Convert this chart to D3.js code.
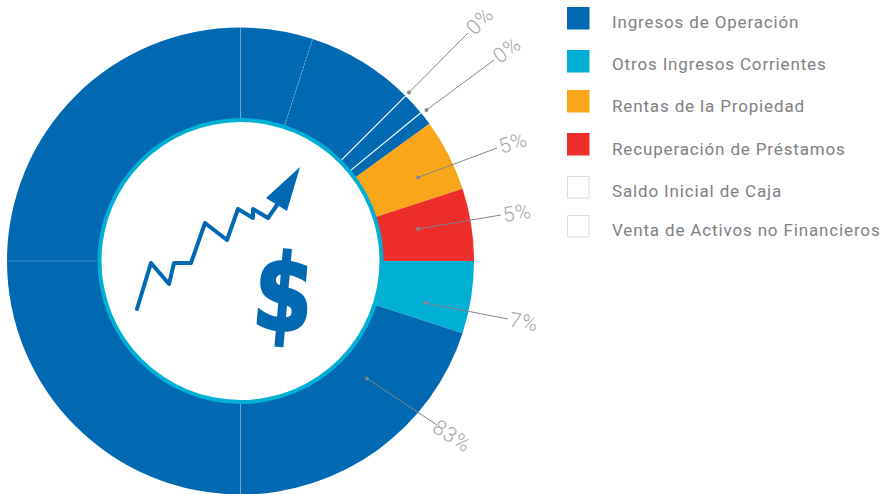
<!DOCTYPE html>
<html>
<head>
<meta charset="utf-8">
<script src="https://cdn.jsdelivr.net/npm/d3@7"></script>
<style>
  html,body{margin:0;padding:0;background:#fff}
  svg{display:block}
  text{font-family:"Roboto","Noto Sans",sans-serif}
</style>
</head>
<body>
<svg id="chart" width="883" height="494"></svg>
<script>
'use strict'

// legend
const categories = ["Ingresos de Operación","Otros Ingresos Corrientes","Rentas de la Propiedad","Recuperación de Préstamos","Saldo Inicial de Caja","Venta de Activos no Financieros"]
const legendColors = ["#0069b1","#00b0d4","#faa61a","#ee2e2b","#ffffff","#ffffff"]

// ring pieces clockwise from 12 o'clock, share of the circle in percent
const sliceCategory = [0,0,0,0,2,3,1,0,0,0]
const sliceValues = [5,7.5,1.55,0.95,5,5,5,20,25,25]
const sliceEdge = ["dash","white","white","none","none","none","none","faint","faint","faint"]

// the printed labels
const labelTexts = ["0%","0%","5%","5%","7%","83%"]

const cx = 240.5, cy = 261
const outerR = 233.5, ringOuter = 143, ringInner = 139

// leader: dot, line end, label centre, label rotation
const leaders = [
  {dot:[409,92.5], end:[468,33], text:[480,21], rot:-45},
  {dot:[426.5,110], end:[494,60], text:[507,50], rot:-37},
  {dot:[418,177.5], end:[497,148], text:[513,143], rot:-18},
  {dot:[418,229], end:[501,215], text:[517,213], rot:-9},
  {dot:[425.5,303], end:[508,319], text:[524,322], rot:10},
  {dot:[367,378.5], end:[437,425], text:[452,436], rot:33}
]

const legendRows = [18,61,101,144,187,226]
const legendTextRows = [22,64,106,149,191,230]

const svg = d3.select("#chart")
const ring = svg.append("g").attr("transform",`translate(${cx},${cy})`)

const pie = d3.pie().sort(null).value(d=>d.value)
const arc = d3.arc().innerRadius(ringOuter-1).outerRadius(outerR)
const slices = pie(sliceValues.map((value,i)=>({value,cat:sliceCategory[i],edge:sliceEdge[i]})))

ring.selectAll("path.slice").data(slices).join("path")
  .attr("class","slice")
  .attr("d",arc)
  .attr("fill",d=>legendColors[d.data.cat])

// separators between the blue pieces
const edgeStyle = {
  dash:{stroke:"#ffffff",op:0.35,w:1,dash:"2 1.5"},
  white:{stroke:"#ffffff",op:1,w:1.1,dash:null},
  faint:{stroke:"#ffffff",op:0.25,w:1,dash:null}
}
slices.filter(d=>d.data.edge!=="none").forEach(d=>{
  const s = edgeStyle[d.data.edge]
  const a = d.endAngle - Math.PI/2
  ring.append("line")
    .attr("x1",Math.cos(a)*ringOuter).attr("y1",Math.sin(a)*ringOuter)
    .attr("x2",Math.cos(a)*outerR).attr("y2",Math.sin(a)*outerR)
    .attr("stroke",s.stroke).attr("stroke-opacity",s.op)
    .attr("stroke-width",s.w).attr("stroke-dasharray",s.dash)
})

// teal rim and white centre
ring.append("circle").attr("r",ringOuter).attr("fill","#00b0d4")
ring.append("circle").attr("r",ringInner).attr("fill","#fff")

// trend arrow icon
const iconLine = [[137,309],[151,263],[169,284],[174,263],[191,263],[205,223],[227,240],[238,209],[253,218],[253,209],[268,218],[277,205]]
const iconHead = [[300,167],[266,198],[287,211]]
svg.append("path")
  .attr("d",d3.line()(iconLine))
  .attr("fill","none").attr("stroke","#0069b1").attr("stroke-width",4)
  .attr("stroke-linecap","round").attr("stroke-linejoin","round")
svg.append("path").attr("d",d3.line()(iconHead)+"Z").attr("fill","#0069b1")
svg.append("text")
  .attr("transform","translate(283.5,293.5) rotate(5) scale(0.86,1.06)")
  .attr("text-anchor","middle").attr("dominant-baseline","central")
  .style("font-family","'DejaVu Sans'").style("font-weight",700).style("font-size","100px")
  .attr("fill","#0069b1").attr("stroke","#0069b1").attr("stroke-width",2.5).text("$")

// leaders and percent labels
const lead = svg.append("g").selectAll("g").data(leaders).join("g")
lead.append("line")
  .attr("x1",d=>d.dot[0]).attr("y1",d=>d.dot[1])
  .attr("x2",d=>d.end[0]).attr("y2",d=>d.end[1])
  .attr("stroke","#85858a").attr("stroke-width",1)
lead.append("circle")
  .attr("cx",d=>d.dot[0]).attr("cy",d=>d.dot[1]).attr("r",2)
  .attr("fill","#85858a")
lead.append("text")
  .attr("transform",d=>`translate(${d.text[0]},${d.text[1]}) rotate(${d.rot})`)
  .attr("text-anchor","middle").attr("dominant-baseline","central")
  .style("font-size","21px").style("font-weight",300).style("letter-spacing","0.8px")
  .attr("fill","#a6a6a9")
  .text((d,i)=>labelTexts[i])

// legend
const legend = svg.append("g").selectAll("g").data(categories).join("g")
legend.append("rect")
  .attr("x",567.5).attr("y",(d,i)=>legendRows[i]-10.5).attr("width",21.5).attr("height",21.5)
  .attr("fill",(d,i)=>legendColors[i])
  .attr("stroke",(d,i)=>legendColors[i]==="#ffffff"?"#dcdcdc":legendColors[i])
  .attr("stroke-width",1)
legend.append("text")
  .attr("x",612).attr("y",(d,i)=>legendTextRows[i])
  .attr("dominant-baseline","central")
  .style("font-size","17px").style("font-weight",400).style("letter-spacing","0.85px")
  .attr("fill","#808083")
  .text(d=>d)
</script>
</body>
</html>
